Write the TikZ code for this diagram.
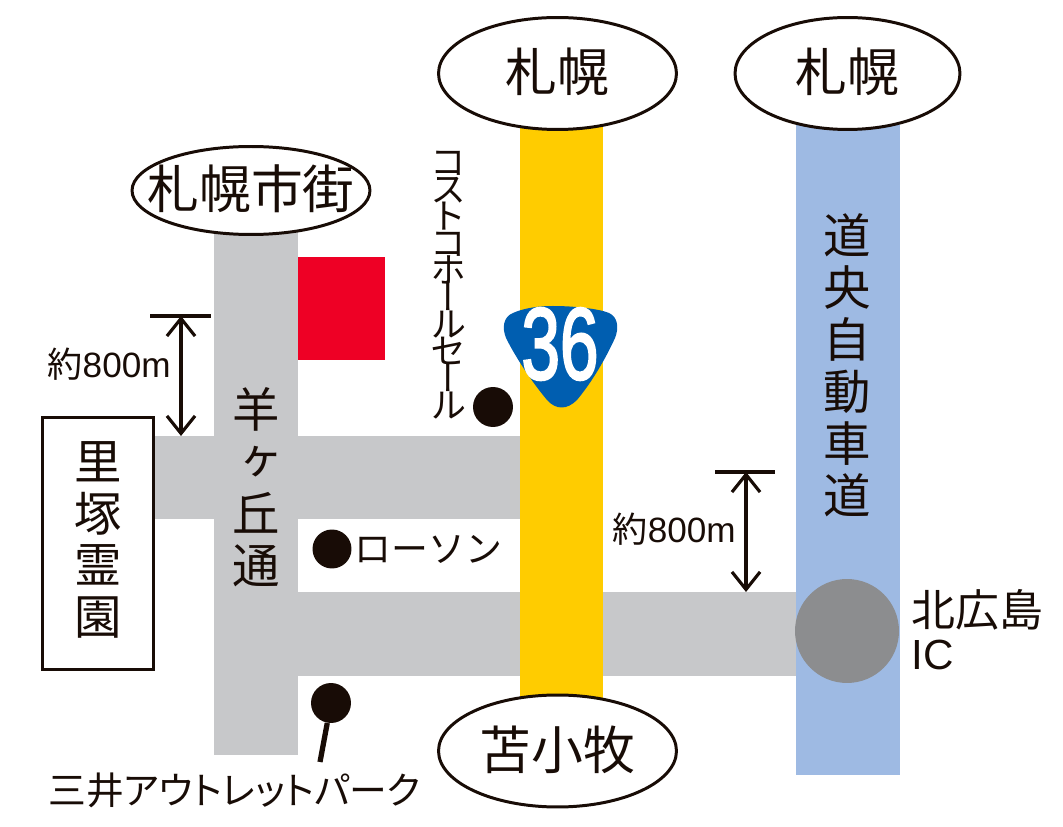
\documentclass[tikz,border=0pt]{standalone}
\usepackage{fontspec}
\setmainfont{Liberation Sans}
\newfontfamily\cjk{Noto Sans CJK JP}
\newfontfamily\cjkp[RawFeature=+palt]{Noto Sans CJK JP}
\newfontfamily\cjkv[RawFeature=+vert]{Noto Sans CJK JP}
\newfontfamily\routefont[FakeBold=2.5]{Liberation Sans}
\usetikzlibrary{arrows.meta,shapes.geometric}
\definecolor{Y}{RGB}{255, 204, 0}
\definecolor{A}{RGB}{158, 186, 227}
\definecolor{S}{RGB}{199, 200, 202}
\definecolor{I}{RGB}{140, 141, 143}
\definecolor{R}{RGB}{238, 0, 37}
\definecolor{N}{RGB}{0, 94, 176}
\definecolor{K}{RGB}{24, 12, 6}
\newcommand{\tightlines}{\lineskiplimit-50pt\relax}
\tikzset{
  cityoval/.style={draw=K, fill=white, ellipse, line width=1.7pt, text=K, inner sep=-30pt, text height=26pt, text depth=5pt, font=\cjk\fontsize{29.5}{29.5}\selectfont},
  columntext/.style={text=K, align=center, inner sep=0pt, font=\cjkv\fontsize{27}{29.5}\selectfont\tightlines},
  shoptext/.style={text=K, inner sep=0pt, font=\cjk\fontsize{21}{21}\selectfont},
  spotdot/.style={circle, fill=K, inner sep=0pt},
  distline/.style={K, line width=1.8pt},
  distarrow/.style={K, line width=1.8pt, {Straight Barb[length=10pt,width=16pt]}-{Straight Barb[length=10pt,width=16pt]}}
}
\begin{document}
\begin{tikzpicture}[x=0.02cm,y=-0.02cm]
  \useasboundingbox (0,0) rectangle (1063,827);

  %# ROADS
  \fill[S] (214,225) rectangle (298,755);
  \fill[S] (150,436) rectangle (520,519);
  \fill[S] (214,592) rectangle (796,676);
  \fill[Y] (520,125) rectangle (603,700);
  \fill[A] (796,125) rectangle (900,775);
  \fill[R] (298,257) rectangle (385,360);

  %# INTERCHANGE
  \node[circle, fill=I, inner sep=0pt, minimum size=2.08cm] (ic) at (847,631) {};
  \node[shoptext, font=\cjk\fontsize{25}{25}\selectfont, anchor=west] (kitahiroshima) at (911,610) {北広島};
  \node[anchor=west, text=K, inner sep=0pt, font=\fontsize{24}{24}\selectfont] (iclabel) at (911,655) {IC};

  %# OVALS
  \node[cityoval, minimum width=4.76cm, minimum height=2.24cm] (sapporoa) at (557.5,73.5) {札幌};
  \node[cityoval, minimum width=4.5cm, minimum height=2.24cm] (sapporob) at (847.5,73.5) {札幌};
  \node[cityoval, minimum width=4.76cm, minimum height=1.76cm] (shigai) at (251,190.5) {札幌市街};
  \node[cityoval, minimum width=4.76cm, minimum height=2.24cm] (tomakomai) at (557.5,751) {苫小牧};

  %# CEMETERY
  \node[draw=K, fill=white, line width=1.7pt, minimum width=2.24cm, minimum height=5.06cm, inner sep=0pt] (reien) at (98,543.5) {};
  \node[columntext] (reienlabel) at (98,540) {里\\塚\\霊\\園};

  %# COLUMN LABELS
  \node[columntext] (hitsujigaoka) at (256,487) {羊\\ヶ\\丘\\通};
  \node[columntext, font=\cjkv\fontsize{27}{29.6}\selectfont\tightlines] (doto) at (847,365) {道\\央\\自\\動\\車\\道};
  \node[columntext, font=\cjkv\fontsize{20.5}{15.4}\selectfont\tightlines] (costco) at (449,285) {コ\\ス\\ト\\コ\\ホ\\ー\\ル\\セ\\ー\\ル};

  %# ROUTE SHIELD
  \fill[N] (553,306) .. controls (575,306) and (600,309) .. (609,313)
    .. controls (618,317) and (619,328) .. (615,338)
    .. controls (606,358) and (592,382) .. (577,400)
    .. controls (567,410) and (556,410) .. (547,400)
    .. controls (532,382) and (516,358) .. (506,338)
    .. controls (502,328) and (503,317) .. (513,313)
    .. controls (522,309) and (535,306) .. (553,306) -- cycle;
  \node[text=white, inner sep=0pt, xscale=0.68, font=\routefont\fontsize{58}{58}\selectfont] (route) at (560,344) {36};

  %# SHOPS
  \node[spotdot, minimum size=0.8cm] (costcodot) at (493,407) {};
  \node[spotdot, minimum size=0.78cm] (lawsondot) at (332,549) {};
  \node[shoptext, anchor=west] (lawson) at (354,549) {ローソン};
  \node[spotdot, minimum size=0.8cm] (mitsuidot) at (331,703) {};
  \coordinate (mitsuiend) at (320,762);
  \draw[K, line width=3pt] (mitsuidot) -- (mitsuiend);
  \node[shoptext, anchor=west, font=\cjkp\fontsize{21.5}{21.5}\selectfont] (mitsui) at (48,790) {三井アウトレットパーク};

  %# DISTANCES
  \coordinate (lefttop) at (181,316);
  \coordinate (leftbot) at (181,436);
  \coordinate (leftbara) at (150,316);
  \coordinate (leftbarb) at (211,316);
  \draw[distline] (leftbara) -- (leftbarb);
  \draw[distarrow] (lefttop) -- (leftbot);
  \node[shoptext, anchor=east, font=\cjk\fontsize{20}{20}\selectfont] (leftdist) at (171,364) {約{\fontspec{Liberation Sans}800m}};
  \coordinate (righttop) at (746,472);
  \coordinate (rightbot) at (746,592);
  \coordinate (rightbara) at (715,472);
  \coordinate (rightbarb) at (775,472);
  \draw[distline] (rightbara) -- (rightbarb);
  \draw[distarrow] (righttop) -- (rightbot);
  \node[shoptext, anchor=east, font=\cjk\fontsize{20}{20}\selectfont] (rightdist) at (736,529) {約{\fontspec{Liberation Sans}800m}};
\end{tikzpicture}
\end{document}
